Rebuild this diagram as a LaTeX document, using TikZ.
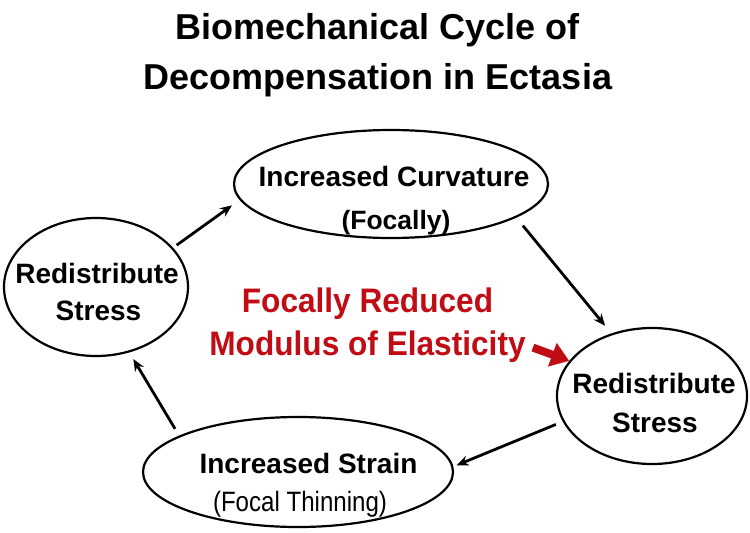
\documentclass[tikz,border=0pt]{standalone}
\usepackage{xcolor}
\usepackage{tikz}
\usepackage{fontspec}
\setmainfont{Liberation Sans}
\newfontfamily\narrowfont[FakeStretch=0.93]{Liberation Sans}
\newfontfamily\thinfont[FakeStretch=0.86]{Liberation Sans}
\usetikzlibrary{arrows.meta,shapes.geometric}
\definecolor{ectred}{RGB}{192,12,20}

\begin{document}
\begin{tikzpicture}[x=1pt, y=-1pt,
    oval/.style={draw, ellipse, line width=2.2pt, inner sep=0pt},
    heading/.style={anchor=base, font=\fontsize{36}{40}\selectfont\bfseries},
    boldtxt/.style={anchor=base, font=\fontsize{28}{32}\selectfont\bfseries},
    redtxt/.style={anchor=base, text=ectred, font=\narrowfont\fontsize{34}{38}\selectfont\bfseries},
    cycarrow/.style={line width=2.8pt, -{Stealth[length=12pt,width=10pt]}}]
    \useasboundingbox (0,0) rectangle (750,533);

    % Title
    \node (title1) [heading] at (377.5,39) {Biomechanical Cycle of};
    \node (title2) [heading] at (378,89) {Decompensation in Ectasia};

    % Ellipses
    \node (curv) [oval, minimum width=314, minimum height=108] at (391,184) {};
    \node (rstress) [oval, minimum width=190, minimum height=136] at (652,396) {};
    \node (strain) [oval, minimum width=310, minimum height=110] at (298,472) {};
    \node (lstress) [oval, minimum width=184, minimum height=138] at (96,287) {};

    % Texts
    \node (curvtxt) [boldtxt] at (394,186) {Increased Curvature};
    \node (curvsub) [anchor=base, font=\fontsize{26.5}{30}\selectfont\bfseries] at (396,229) {(Focally)};
    \node (rstresstxt) [boldtxt] at (654,393) {Redistribute};
    \node (rstresssub) [boldtxt] at (655,432) {Stress};
    \node (straintxt) [boldtxt] at (308.5,473) {Increased Strain};
    \node (strainsub) [anchor=base, font=\thinfont\fontsize{28}{32}\selectfont] at (300,511) {(Focal Thinning)};
    \node (lstresstxt) [boldtxt] at (97,283) {Redistribute};
    \node (lstresssub) [boldtxt] at (98.5,320) {Stress};
    \node (focal) [redtxt] at (367.5,312) {Focally Reduced};
    \node (modulus) [redtxt] at (367.5,355) {Modulus of Elasticity};

    % Arrows
    \draw[cycarrow, shorten <=4.4pt, shorten >=9.4pt] (lstress.27.6) -- (curv.186);
    \draw[cycarrow, shorten <=10.4pt, shorten >=9.8pt] (curv.345.2) -- (rstress.123.6);
    \draw[cycarrow, shorten <=7.4pt, shorten >=3.4pt] (rstress.196) -- (strain.2.5);
    \draw[cycarrow, shorten <=7.9pt, shorten >=7.7pt] (strain.163.5) -- (lstress.297.2);
    \draw[ectred, line width=8pt, -{Triangle[length=18pt,width=24pt]}, shorten <=4pt] (modulus.east) -- (rstress.157);
\end{tikzpicture}
\end{document}
